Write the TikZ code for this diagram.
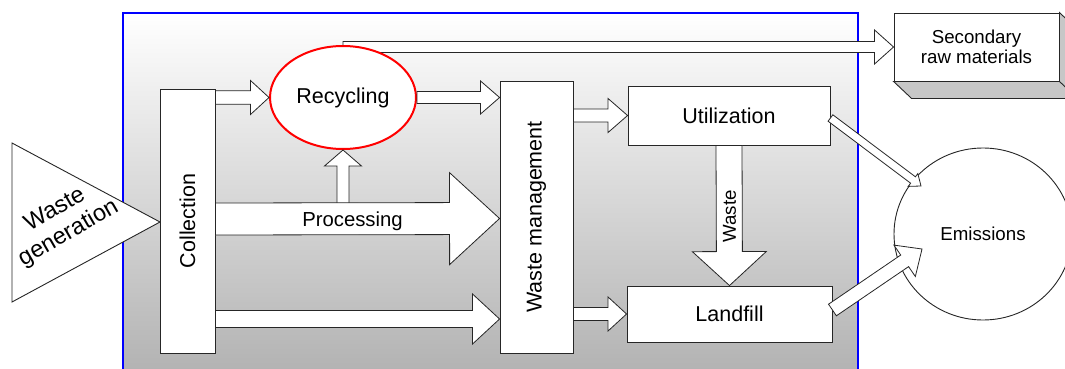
\documentclass[tikz,border=0pt]{standalone}
\usepackage{fontspec}
\setmainfont{Liberation Sans}
\usepackage{graphicx}
\usetikzlibrary{calc,shapes.geometric}
\pgfdeclarelayer{bg}
\pgfsetlayers{bg,main}
\newcommand{\barrow}[5]{%
  \coordinate (bah) at ($(#2)!#5!(#1)$);
  \draw[barrowstyle] ($(#1)!#3!90:(#2)$) -- ($(bah)!#3!90:(#2)$) -- ($(bah)!#4!90:(#2)$) -- (#2) -- ($(bah)!#4!-90:(#2)$) -- ($(bah)!#3!-90:(#2)$) -- ($(#1)!#3!-90:(#2)$) -- cycle;
}
\begin{document}
\begin{tikzpicture}[x=1pt,y=-1pt,
  box/.style={draw=black!85, line width=0.9pt, fill=white, inner sep=0pt},
  barrowstyle/.style={draw=black!85, line width=0.8pt, fill=white, line join=miter},
  big/.style={font=\fontsize{21.5}{25}\selectfont},
  small/.style={font=\fontsize{18.7}{20.5}\selectfont}]
\useasboundingbox (0,0) rectangle (1065,369);
\begin{pgfonlayer}{bg}
\shade[top color=white, bottom color=black!30] (123,13) rectangle (858,372);
\draw[blue, line width=2pt] (123,374) -- (123,13) -- (858,13) -- (858,374);
\end{pgfonlayer}

% waste generation triangle
\draw[box] (12,143) -- (160,222) -- (12,302) -- cycle;
\node[rotate=30, align=center, inner sep=0pt, font=\fontsize{23.5}{27}\selectfont] (wg) at (62,222) {Waste\\generation};

% nodes
\node[box, minimum width=55pt, minimum height=264pt, big] (coll) at (187.5,221) {\rotatebox{90}{Collection}};
\node[box, minimum width=73pt, minimum height=272pt, big] (wm) at (536.5,217) {\rotatebox{90}{Waste management}};
\node[box, minimum width=202pt, minimum height=59pt, big] (util) at (729,115.5) {Utilization};
\node[box, minimum width=205pt, minimum height=56pt, big] (land) at (729.5,314) {Landfill};
\node[draw=red, line width=2pt, ellipse, fill=white, minimum width=146pt, minimum height=103pt, inner sep=0pt, big] (rec) at (343,97.5) {Recycling};
\node[draw=black!85, line width=0.9pt, ellipse, fill=white, minimum width=178pt, minimum height=172pt, inner sep=0pt, small] (emis) at (983,234) {Emissions};
\node[box, minimum width=165pt, minimum height=68pt, align=center, small] (sec) at (976.5,47) {Secondary\\raw materials};
\draw[draw=black!85, line width=0.9pt, fill=black!22, line join=miter] (sec.south west) -- ++(18,17) -- ($(sec.south east)+(18,17)$) -- ($(sec.north east)+(18,17)$) -- (sec.north east) -- (sec.south east) -- cycle;
\draw[draw=black!85, line width=0.9pt] (sec.south east) -- ++(18,17);

% secondary raw materials arrow (behind recycling)
\begin{pgfonlayer}{bg}
\coordinate (s1) at (rec.north |- sec.west);
\barrow{s1}{sec.west}{5.5pt}{17pt}{19pt}
\end{pgfonlayer}

% arrows
\coordinate (c1) at (coll.east |- rec.west);
\barrow{c1}{rec.west}{6.7pt}{17pt}{18.5pt}
\coordinate (w1) at (wm.west |- rec.east);
\barrow{rec.east}{w1}{6pt}{16.5pt}{19pt}
\coordinate (u1) at (rec.south |- 0,203.5);
\barrow{u1}{rec.south}{6pt}{18.5pt}{16pt}
\coordinate (p1) at (coll.east |- 0,219);
\coordinate (p2) at (wm.west |- 0,218.5);
\barrow{p1}{p2}{16pt}{46pt}{50pt}
\node[inner sep=0pt, font=\fontsize{20.3}{24}\selectfont] (proc) at (352.5,221.5) {Processing};
\coordinate (b1) at (coll.east |- 0,319);
\coordinate (b2) at (wm.west |- 0,319);
\barrow{b1}{b2}{8.5pt}{25pt}{27pt}
\coordinate (m1) at (wm.east |- util.west);
\barrow{m1}{util.west}{6.5pt}{17pt}{19.5pt}
\coordinate (m2) at (wm.east |- land.west);
\barrow{m2}{land.west}{6.5pt}{17pt}{18.5pt}
\barrow{util.south}{land.north}{13pt}{37pt}{34pt}
\node[inner sep=0pt, small] (wlbl) at (729.5,216.5) {\rotatebox{90}{Waste}};
\coordinate (e1) at ($(util.east)+(0,2.5)$);
\coordinate (e2) at (921,186);
\barrow{e1}{e2}{4pt}{8pt}{10pt}
\coordinate (e3) at ($(land.east)+(0,-4)$);
\coordinate (e4) at (922,249);
\barrow{e3}{e4}{7pt}{19pt}{21pt}
\end{tikzpicture}
\end{document}
